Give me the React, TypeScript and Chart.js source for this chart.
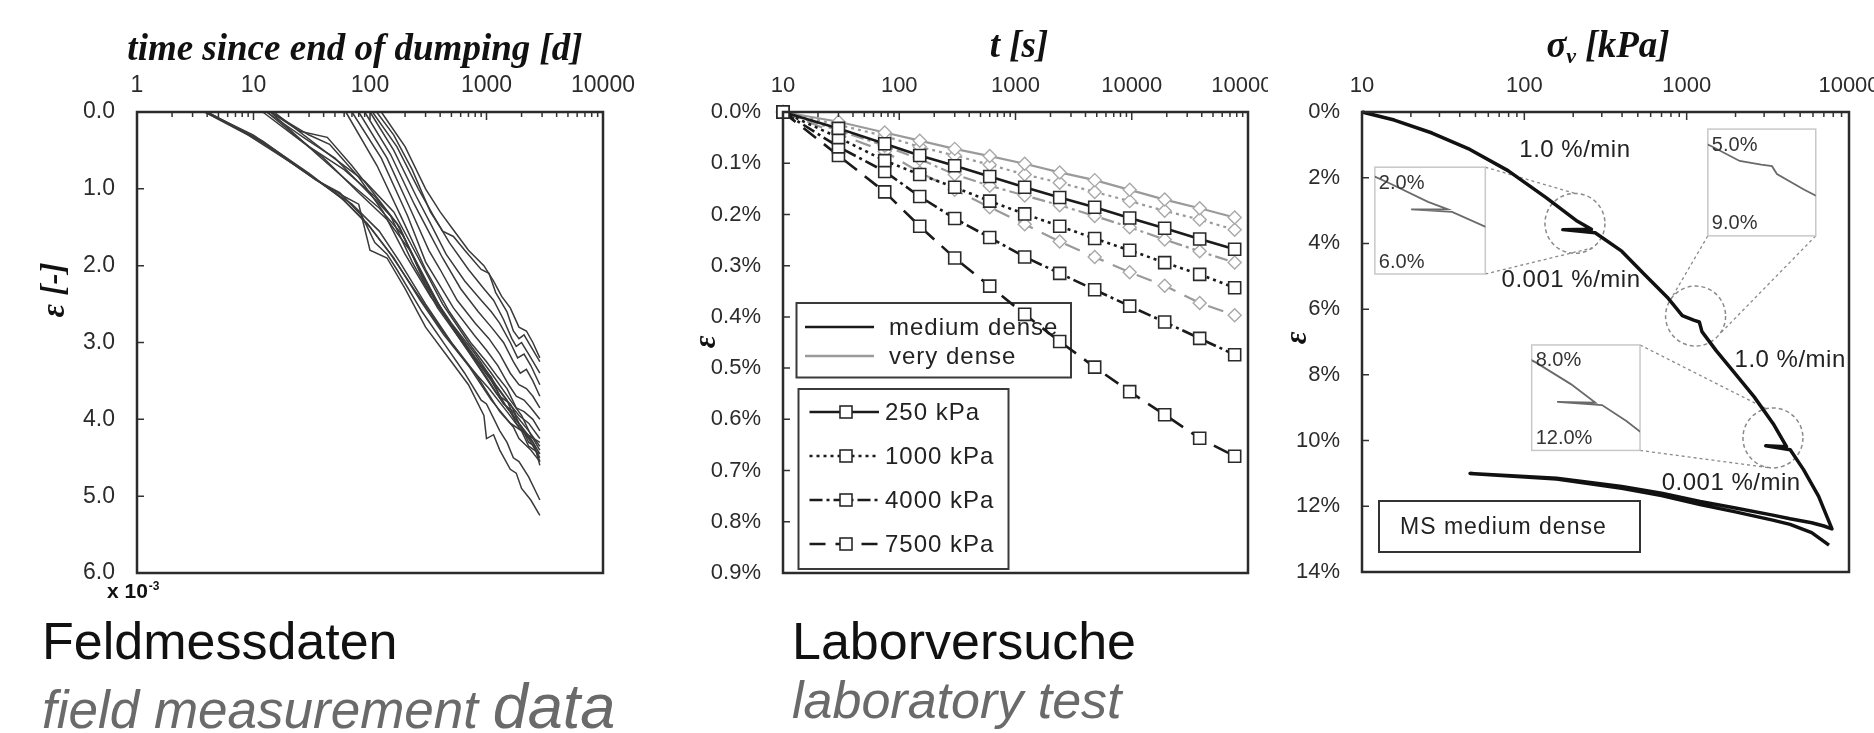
import React, { useEffect, useRef } from 'react';
import { Chart, registerables } from 'chart.js';
Chart.register(...registerables);

const SANS = "'Liberation Sans', Arial, Helvetica, sans-serif";
const SERIF = "'Liberation Serif', 'Times New Roman', serif";
const TICK_COLOR = '#2b2b2b';

// ---------------- Panel 1: field measurement data (time [d], strain x10^-3) ----------------
const p1XTicks = [1, 10, 100, 1000, 10000];
const p1YTicks = [0, 1, 2, 3, 4, 5, 6];

const fieldA1 = [[3.9, 0], [10, 0.3], [30, 0.8], [60, 1.15], [100, 1.5], [150, 1.85], [250, 2.35], [420, 2.85], [700, 3.3], [1100, 3.75], [1600, 4.05], [2000, 4.15], [2300, 4.35], [2870, 4.45]];
const fieldA2 = [[3.9, 0], [10, 0.32], [32, 0.85], [70, 1.2], [120, 1.55], [180, 1.95], [300, 2.5], [500, 3.0], [800, 3.4], [1300, 3.9], [1700, 4.1], [1900, 4.25], [2400, 4.4], [2870, 4.55]];
const fieldA3 = [[4, 0], [12, 0.4], [34, 0.88], [55, 1.05], [85, 1.35], [110, 1.7], [140, 1.85], [170, 2.05], [280, 2.6], [450, 3.05], [650, 3.4], [900, 3.75], [1000, 3.8], [1300, 4.15], [1500, 4.3], [1700, 4.5], [1900, 4.55], [2300, 4.75], [2870, 5.05]];
const fieldA4 = [[4, 0], [12, 0.38], [36, 0.9], [60, 1.1], [80, 1.2], [100, 1.8], [140, 1.9], [200, 2.3], [300, 2.8], [500, 3.25], [700, 3.55], [950, 3.95], [1000, 4.25], [1150, 4.2], [1300, 4.4], [1600, 4.65], [1800, 4.7], [2000, 4.9], [2400, 5.05], [2870, 5.25]];
const fieldA5 = [[3.8, 0], [9, 0.3], [28, 0.78], [55, 1.1], [95, 1.45], [160, 1.9], [270, 2.45], [430, 2.9], [700, 3.3], [1050, 3.6], [1500, 3.9], [2000, 4.15], [2870, 4.3]];
const fieldB1 = [[14, 0], [30, 0.3], [45, 0.42], [80, 0.85], [130, 1.3], [200, 1.85], [330, 2.4], [550, 2.85], [900, 3.3], [1100, 3.45], [1300, 3.7], [1600, 3.8], [1800, 3.95], [2300, 4.15], [2870, 4.35]];
const fieldB2 = [[13, 0], [28, 0.35], [50, 0.6], [90, 1.0], [150, 1.35], [230, 1.95], [380, 2.55], [620, 3.0], [1000, 3.45], [1400, 3.8], [1700, 3.9], [1900, 4.05], [2400, 4.25], [2870, 4.45]];
const fieldB3 = [[14, 0], [25, 0.25], [43, 0.33], [70, 0.7], [120, 1.15], [180, 1.5], [300, 2.25], [500, 2.75], [800, 3.15], [1200, 3.55], [1500, 3.75], [1700, 3.95], [2200, 4.2], [2500, 4.3], [2870, 4.55]];
const fieldB4 = [[13, 0], [30, 0.45], [60, 0.75], [110, 1.1], [170, 1.45], [260, 2.0], [420, 2.6], [700, 3.1], [1100, 3.5], [1500, 3.85], [2000, 4.1], [2300, 4.3], [2600, 4.35], [2870, 4.6]];
const fieldB5 = [[14, 0], [35, 0.55], [70, 0.95], [120, 1.25], [190, 1.6], [300, 2.2], [480, 2.75], [800, 3.25], [1200, 3.65], [1600, 3.9], [1800, 4.05], [2300, 4.25], [2870, 4.5]];
const fieldB6 = [[12, 0], [22, 0.3], [40, 0.6], [80, 1.05], [140, 1.4], [220, 1.8], [360, 2.45], [600, 2.95], [950, 3.35], [1400, 3.7], [1900, 3.95], [2300, 4.05], [2870, 4.25]];
const fieldB7 = [[15, 0], [40, 0.5], [90, 0.9], [160, 1.3], [260, 1.9], [420, 2.5], [700, 3.0], [1100, 3.4], [1600, 3.75], [2000, 3.95], [2400, 4.2], [2870, 4.4]];
const fieldC1 = [[114, 0], [160, 0.3], [230, 0.75], [330, 1.3], [420, 1.55], [520, 1.62], [650, 1.8], [900, 2.05], [1050, 2.1], [1200, 2.35], [1500, 2.6], [1700, 2.85], [1900, 2.95], [2100, 2.9], [2400, 3.05], [2870, 3.25]];
const fieldC2 = [[105, 0], [170, 0.45], [260, 1.0], [350, 1.35], [480, 1.7], [700, 2.05], [950, 2.3], [1150, 2.45], [1400, 2.7], [1650, 2.95], [1800, 3.05], [2000, 3.0], [2300, 3.15], [2870, 3.4]];
const fieldC3 = [[100, 0], [160, 0.5], [250, 1.1], [330, 1.45], [450, 1.85], [650, 2.2], [900, 2.45], [1100, 2.6], [1300, 2.75], [1600, 3.0], [1850, 3.2], [2100, 3.15], [2400, 3.3], [2870, 3.55]];
const fieldC4 = [[90, 0], [150, 0.55], [240, 1.2], [330, 1.6], [420, 1.9], [600, 2.3], [850, 2.6], [1100, 2.8], [1400, 3.0], [1700, 3.25], [1950, 3.4], [2200, 3.35], [2500, 3.5], [2870, 3.7]];
const fieldC5 = [[80, 0], [140, 0.6], [220, 1.25], [320, 1.8], [400, 2.05], [560, 2.45], [800, 2.75], [1050, 2.95], [1300, 3.15], [1600, 3.4], [1900, 3.55], [2200, 3.6], [2500, 3.7], [2870, 3.85]];
const fieldC6 = [[70, 0], [125, 0.6], [210, 1.35], [300, 1.95], [520, 2.55], [780, 2.9], [1000, 3.1], [1250, 3.3], [1550, 3.55], [1800, 3.7], [2100, 3.75], [2400, 3.85], [2870, 4.0]];
const fieldC7 = [[62, 0], [115, 0.7], [190, 1.4], [300, 2.05], [480, 2.6], [730, 3.0], [1000, 3.25], [1250, 3.45], [1500, 3.6], [1800, 3.85], [2100, 3.9], [2500, 4.0], [2870, 4.15]];
const fieldC8 = [[125, 0], [200, 0.45], [300, 1.0], [400, 1.3], [500, 1.5], [700, 1.8], [950, 2.0], [1150, 2.2], [1350, 2.4], [1600, 2.55], [1900, 2.8], [2200, 2.85], [2500, 3.0], [2870, 3.2]];

const fieldSeries = [fieldA1, fieldA2, fieldA3, fieldA4, fieldA5, fieldB1, fieldB2, fieldB3, fieldB4, fieldB5, fieldB6, fieldB7, fieldC1, fieldC2, fieldC3, fieldC4, fieldC5, fieldC6, fieldC7, fieldC8];

// ---------------- Panel 2: laboratory creep tests (t [s], strain [%]) ----------------
const p2XTicks = [10, 100, 1000, 10000, 100000];
const p2YTicks = [0, 0.1, 0.2, 0.3, 0.4, 0.5, 0.6, 0.7, 0.8, 0.9];
const labTimes = [10, 30, 75, 150, 300, 600, 1200, 2400, 4800, 9600, 19200, 38400, 76800];
const md250 = [0, 0.032, 0.062, 0.085, 0.105, 0.126, 0.147, 0.167, 0.186, 0.207, 0.227, 0.248, 0.268];
const md1000 = [0, 0.05, 0.095, 0.122, 0.147, 0.174, 0.199, 0.223, 0.247, 0.27, 0.294, 0.317, 0.343];
const md4000 = [0, 0.068, 0.116, 0.165, 0.208, 0.245, 0.283, 0.315, 0.347, 0.379, 0.41, 0.442, 0.474];
const md7500 = [0, 0.085, 0.156, 0.223, 0.285, 0.34, 0.395, 0.448, 0.498, 0.546, 0.591, 0.637, 0.672];
const vd250 = [0, 0.019, 0.04, 0.056, 0.072, 0.086, 0.101, 0.118, 0.133, 0.152, 0.171, 0.188, 0.206];
const vd1000 = [0, 0.025, 0.047, 0.068, 0.085, 0.103, 0.122, 0.138, 0.156, 0.174, 0.193, 0.21, 0.23];
const vd4000 = [0, 0.036, 0.066, 0.092, 0.122, 0.144, 0.163, 0.182, 0.203, 0.225, 0.249, 0.272, 0.294];
const vd7500 = [0, 0.043, 0.077, 0.118, 0.152, 0.186, 0.219, 0.253, 0.283, 0.313, 0.339, 0.373, 0.397];
const pressureLabels = ['250 kPa', '1000 kPa', '4000 kPa', '7500 kPa'];
const densityLabels = ['medium dense', 'very dense'];

// ---------------- Panel 3: oedometer test, MS medium dense (sigma_v [kPa], strain [%]) ----------------
const p3XTicks = [10, 100, 1000, 10000];
const p3YTicks = [0, 2, 4, 6, 8, 10, 12, 14];
const msStress = [10, 15.8, 27, 46.2, 79.3, 135.5, 208.5, 259, 172.6, 273, 398, 548, 759, 940, 1104, 1197, 1242, 1524, 1995, 2606, 3412, 4121, 3069, 4345, 5248, 6501, 7852,
  7000, 5888, 4335, 3388, 1995, 1210, 700, 398, 158, 46.3,
  158, 398, 700, 1210, 1995, 3388, 4335, 5888, 7530];
const msStrain = [0, 0.245, 0.64, 1.14, 1.785, 2.6, 3.3, 3.57, 3.58, 3.675, 4.235, 4.935, 5.635, 6.195, 6.335, 6.39, 6.685, 7.27, 7.97, 8.67, 9.485, 10.185, 10.16, 10.28, 10.885, 11.7, 12.69,
  12.6, 12.5, 12.38, 12.27, 12.05, 11.85, 11.6, 11.4, 11.15, 11.0,
  11.17, 11.45, 11.67, 11.95, 12.17, 12.42, 12.55, 12.8, 13.18];
const rateLabels = ['1.0 %/min', '0.001 %/min'];

// ---------------- helpers ----------------
function minorLogTicks(min: number, max: number) {
  const out: number[] = [];
  for (let e = Math.floor(Math.log10(min)); e <= Math.ceil(Math.log10(max)); e++) {
    for (let k = 1; k < 10; k++) {
      const v = k * Math.pow(10, e);
      if (v >= min * 0.999 && v <= max * 1.001) out.push(v);
    }
  }
  return out;
}

function xLogAxis(min: number, max: number, ticks: number[], height: number, size: number) {
  return {
    type: 'logarithmic', position: 'top', min, max,
    afterBuildTicks: (s: any) => { s.ticks = ticks.map((v) => ({ value: v })); },
    afterFit: (s: any) => { s.height = height; s.paddingLeft = 0; s.paddingRight = 0; s.paddingTop = 0; s.paddingBottom = 0; },
    grid: { display: false, drawTicks: false, tickLength: 0 },
    border: { display: false },
    ticks: { autoSkip: false, maxRotation: 0, minRotation: 0, padding: 13, color: TICK_COLOR, font: { family: SANS, size }, callback: (v: any) => String(v) },
  };
}

function yLinAxis(min: number, max: number, ticks: number[], width: number, size: number, fmt: (v: number) => string) {
  return {
    type: 'linear', position: 'left', reverse: true, min, max,
    afterBuildTicks: (s: any) => { s.ticks = ticks.map((v) => ({ value: v })); },
    afterFit: (s: any) => { s.width = width; s.paddingLeft = 0; s.paddingRight = 0; s.paddingTop = 0; s.paddingBottom = 0; },
    grid: { display: false, drawTicks: false, tickLength: 0 },
    border: { display: false },
    ticks: { autoSkip: false, padding: 22, color: TICK_COLOR, font: { family: SANS, size }, callback: (v: any) => fmt(Number(v)) },
  };
}

function baseOptions(x: any, y: any, padding: any) {
  return {
    responsive: false, maintainAspectRatio: false, animation: false, devicePixelRatio: 1, events: [],
    layout: { padding },
    plugins: { legend: { display: false }, tooltip: { enabled: false }, title: { display: false } },
    scales: { x, y },
  };
}

function drawFrame(chart: any, xVals: number[], yVals: number[]) {
  const { ctx, chartArea: a } = chart;
  const xs = chart.scales.x, ys = chart.scales.y;
  ctx.save();
  ctx.strokeStyle = '#333';
  ctx.lineWidth = 1.5;
  ctx.beginPath();
  for (const v of xVals) {
    const p = xs.getPixelForValue(v);
    const lg = Math.log10(v);
    const major = Math.abs(lg - Math.round(lg)) < 1e-6;
    ctx.moveTo(p, a.top);
    ctx.lineTo(p, a.top + (major ? 8 : 5));
  }
  for (const v of yVals) {
    const p = ys.getPixelForValue(v);
    ctx.moveTo(a.left, p);
    ctx.lineTo(a.left + 7, p);
  }
  ctx.stroke();
  ctx.lineWidth = 2.5;
  ctx.strokeStyle = '#2b2b2b';
  ctx.strokeRect(a.left, a.top, a.right - a.left, a.bottom - a.top);
  ctx.restore();
}

function drawRotated(ctx: any, text: string, x: number, y: number, font: string) {
  ctx.save();
  ctx.translate(x, y);
  ctx.rotate(-Math.PI / 2);
  ctx.font = font;
  ctx.fillStyle = '#111';
  ctx.textAlign = 'center';
  ctx.textBaseline = 'middle';
  ctx.fillText(text, 0, 0);
  ctx.restore();
}

// ---------------- Panel 1 config ----------------
function config1(): any {
  const deco = {
    id: 'p1deco',
    afterDraw(chart: any) {
      drawFrame(chart, minorLogTicks(1, 10000), p1YTicks);
      const ctx = chart.ctx;
      ctx.save();
      ctx.fillStyle = '#111';
      ctx.font = `italic bold 37px ${SERIF}`;
      ctx.textAlign = 'center';
      ctx.textBaseline = 'alphabetic';
      ctx.fillText('time since end of dumping [d]', 355, 60);
      ctx.restore();
      drawRotated(ctx, 'ε [-]', 55, 290, `italic bold 33px ${SERIF}`);
      ctx.save();
      ctx.fillStyle = '#111';
      ctx.textAlign = 'left';
      ctx.textBaseline = 'alphabetic';
      ctx.font = `bold 21px ${SANS}`;
      ctx.fillText('x 10', 107, 598);
      const w = ctx.measureText('x 10').width;
      ctx.font = `bold 12px ${SANS}`;
      ctx.fillText('-3', 107 + w + 1, 590);
      ctx.restore();
    },
  };
  return {
    type: 'line',
    data: {
      datasets: fieldSeries.map((s) => ({
        data: s.map(([t, e]) => ({ x: t, y: e })),
        borderColor: '#3a3a3a', borderWidth: 1.5, pointRadius: 0, fill: false, tension: 0, clip: false,
      })),
    },
    options: baseOptions(xLogAxis(1, 10000, p1XTicks, 112, 23), yLinAxis(0, 6, p1YTicks, 137, 23, (v) => v.toFixed(1)), { left: 0, top: 0, right: 37, bottom: 37 }),
    plugins: [deco],
  };
}

// ---------------- Panel 2 config ----------------
const labStyles = [
  { vals: md250, dash: [] as number[], md: true },
  { vals: md1000, dash: [3, 4], md: true },
  { vals: md4000, dash: [13, 4, 3, 4], md: true },
  { vals: md7500, dash: [16, 10], md: true },
  { vals: vd250, dash: [] as number[], md: false },
  { vals: vd1000, dash: [3, 4], md: false },
  { vals: vd4000, dash: [13, 4, 3, 4], md: false },
  { vals: vd7500, dash: [16, 10], md: false },
];

function config2(): any {
  const deco = {
    id: 'p2deco',
    beforeDatasetsDraw(chart: any) {
      const { ctx, chartArea: a } = chart;
      ctx.save();
      ctx.strokeStyle = '#3a3a3a';
      ctx.lineWidth = 2;
      ctx.strokeRect(a.left + 13.5, a.top + 191, 274.5, 74.5);
      ctx.strokeRect(a.left + 15.5, a.top + 277, 210, 180);
      ctx.font = `24px ${SANS}`;
      ctx.letterSpacing = '1px';
      ctx.textAlign = 'left';
      ctx.textBaseline = 'middle';
      ctx.fillStyle = '#222';
      const dy = [215, 244];
      densityLabels.forEach((lab, i) => {
        ctx.beginPath();
        ctx.setLineDash([]);
        ctx.strokeStyle = i === 0 ? '#1a1a1a' : '#9a9a9a';
        ctx.lineWidth = i === 0 ? 2.6 : 2.4;
        ctx.moveTo(a.left + 22, a.top + dy[i]);
        ctx.lineTo(a.left + 91, a.top + dy[i]);
        ctx.stroke();
        ctx.fillText(lab, a.left + 106, a.top + dy[i] + 1);
      });
      const py = [300, 344, 388, 432];
      pressureLabels.forEach((lab, i) => {
        const y = a.top + py[i];
        ctx.beginPath();
        ctx.setLineDash(labStyles[i].dash);
        ctx.strokeStyle = '#1a1a1a';
        ctx.lineWidth = 2.6;
        ctx.moveTo(a.left + 26.5, y);
        ctx.lineTo(a.left + 96, y);
        ctx.stroke();
        ctx.setLineDash([]);
        ctx.fillStyle = '#fff';
        ctx.strokeStyle = '#2a2a2a';
        ctx.lineWidth = 1.6;
        ctx.fillRect(a.left + 57, y - 6, 12, 12);
        ctx.strokeRect(a.left + 57, y - 6, 12, 12);
        ctx.fillStyle = '#222';
        ctx.fillText(lab, a.left + 102, y + 1);
      });
      ctx.restore();
    },
    afterDraw(chart: any) {
      drawFrame(chart, minorLogTicks(10, 100000), p2YTicks);
      const ctx = chart.ctx;
      ctx.save();
      ctx.fillStyle = '#111';
      ctx.font = `italic bold 37px ${SERIF}`;
      ctx.textAlign = 'center';
      ctx.textBaseline = 'alphabetic';
      ctx.fillText('t [s]', 379, 57);
      ctx.restore();
      drawRotated(ctx, 'ε', 67, 342, `italic bold 31px ${SERIF}`);
    },
  };
  return {
    type: 'line',
    data: {
      datasets: labStyles.map((s) => ({
        data: labTimes.map((t, i) => ({ x: t, y: s.vals[i] })),
        borderColor: s.md ? '#1a1a1a' : '#9a9a9a',
        borderWidth: s.md ? 2.6 : 2.2,
        borderDash: s.dash,
        borderCapStyle: 'butt',
        pointStyle: s.md ? 'rect' : 'rectRot',
        pointRadius: s.md ? 8.5 : 6.5,
        pointBorderWidth: s.md ? 1.6 : 1.4,
        pointBorderColor: s.md ? '#2a2a2a' : '#a8a8a8',
        pointBackgroundColor: '#ffffff',
        fill: false, tension: 0, clip: false,
      })),
    },
    options: baseOptions(xLogAxis(10, 100000, p2XTicks, 112, 22), yLinAxis(0, 0.9, p2YTicks, 143, 22, (v) => v.toFixed(1) + '%'), { left: 0, top: 0, right: 20, bottom: 37 }),
    plugins: [deco],
  };
}

// ---------------- Panel 3 config ----------------
const insets = [
  { box: [12.0, 57.5, 1.68, 4.93], win: [115, 396, 2.0, 6.0], top: '2.0%', bottom: '6.0%', circle: [205, 3.39], c1: ['tr', -90], c2: ['br', 55] },
  { box: [1350, 6240, 0.52, 3.77], win: [741, 1660, 5.0, 9.0], top: '5.0%', bottom: '9.0%', circle: [1135, 6.21], c1: ['bl', -145], c2: ['br', 38] },
  { box: [111, 516, 7.09, 10.3], win: [2518, 5834, 8.0, 12.0], top: '8.0%', bottom: '12.0%', circle: [3400, 9.92], c1: ['tr', -103], c2: ['br', 98] },
];
const rateNotes = [
  { text: rateLabels[0], s: 205, e: 1.16 },
  { text: rateLabels[1], s: 194, e: 5.11 },
  { text: rateLabels[0], s: 4340, e: 7.55 },
  { text: rateLabels[1], s: 1880, e: 11.29 },
];

function config3(): any {
  const deco = {
    id: 'p3deco',
    beforeDatasetsDraw(chart: any) {
      const { ctx, chartArea: a } = chart;
      const xs = chart.scales.x, ys = chart.scales.y;
      ctx.save();
      ctx.font = `24px ${SANS}`;
      ctx.letterSpacing = '0.5px';
      ctx.fillStyle = '#222';
      ctx.textAlign = 'center';
      ctx.textBaseline = 'middle';
      rateNotes.forEach((n) => ctx.fillText(n.text, xs.getPixelForValue(n.s), ys.getPixelForValue(n.e)));
      ctx.letterSpacing = '0px';
      insets.forEach((ins) => {
        const X0 = xs.getPixelForValue(ins.box[0]), X1 = xs.getPixelForValue(ins.box[1]);
        const Y0 = ys.getPixelForValue(ins.box[2]), Y1 = ys.getPixelForValue(ins.box[3]);
        const cx = xs.getPixelForValue(ins.circle[0]), cy = ys.getPixelForValue(ins.circle[1]);
        const R = 30;
        ctx.setLineDash([3, 3]);
        ctx.strokeStyle = '#8a8a8a';
        ctx.lineWidth = 1.3;
        [ins.c1, ins.c2].forEach((c: any) => {
          const corner = c[0] as string;
          const px = corner.includes('r') ? X1 : X0;
          const py = corner.includes('t') ? Y0 : Y1;
          const ang = (c[1] * Math.PI) / 180;
          ctx.beginPath();
          ctx.moveTo(px, py);
          ctx.lineTo(cx + R * Math.cos(ang), cy + R * Math.sin(ang));
          ctx.stroke();
        });
        ctx.setLineDash([4, 3]);
        ctx.lineWidth = 1.5;
        ctx.beginPath();
        ctx.arc(cx, cy, R, 0, Math.PI * 2);
        ctx.stroke();
        ctx.setLineDash([]);
        ctx.fillStyle = '#fff';
        ctx.fillRect(X0, Y0, X1 - X0, Y1 - Y0);
        ctx.strokeStyle = '#c8c8c8';
        ctx.lineWidth = 1.5;
        ctx.strokeRect(X0, Y0, X1 - X0, Y1 - Y0);
        ctx.save();
        ctx.beginPath();
        ctx.rect(X0, Y0, X1 - X0, Y1 - Y0);
        ctx.clip();
        const l0 = Math.log10(ins.win[0]), l1 = Math.log10(ins.win[1]);
        ctx.beginPath();
        msStress.forEach((s, i) => {
          const u = (Math.log10(s) - l0) / (l1 - l0);
          const v = (msStrain[i] - ins.win[2]) / (ins.win[3] - ins.win[2]);
          const px = X0 + u * (X1 - X0), py = Y0 + v * (Y1 - Y0);
          if (i === 0) ctx.moveTo(px, py); else ctx.lineTo(px, py);
        });
        ctx.strokeStyle = '#6a6a6a';
        ctx.lineWidth = 1.8;
        ctx.stroke();
        ctx.restore();
        ctx.font = `20px ${SANS}`;
        ctx.fillStyle = '#333';
        ctx.textAlign = 'left';
        ctx.textBaseline = 'middle';
        ctx.fillText(ins.top, X0 + 4, Y0 + 16);
        ctx.fillText(ins.bottom, X0 + 4, Y1 - 12);
      });
      ctx.strokeStyle = '#333';
      ctx.lineWidth = 2;
      ctx.strokeRect(a.left + 17, a.bottom - 71, 261, 51);
      ctx.font = `23px ${SANS}`;
      ctx.letterSpacing = '1px';
      ctx.fillStyle = '#222';
      ctx.textAlign = 'left';
      ctx.textBaseline = 'middle';
      ctx.fillText('MS medium dense', a.left + 38, a.bottom - 44);
      ctx.restore();
    },
    afterDraw(chart: any) {
      drawFrame(chart, minorLogTicks(10, 10000), p3YTicks);
      const ctx = chart.ctx;
      ctx.save();
      ctx.fillStyle = '#111';
      ctx.textBaseline = 'alphabetic';
      ctx.textAlign = 'left';
      ctx.font = `italic bold 37px ${SERIF}`;
      const w1 = ctx.measureText('σ').width;
      ctx.font = `italic bold 22px ${SERIF}`;
      const w2 = ctx.measureText('v').width;
      ctx.font = `italic bold 37px ${SERIF}`;
      const w3 = ctx.measureText(' [kPa]').width;
      const x0 = 338 - (w1 + w2 + w3) / 2;
      ctx.fillText('σ', x0, 57);
      ctx.font = `italic bold 22px ${SERIF}`;
      ctx.fillText('v', x0 + w1, 63);
      ctx.font = `italic bold 37px ${SERIF}`;
      ctx.fillText(' [kPa]', x0 + w1 + w2, 57);
      ctx.restore();
      drawRotated(ctx, 'ε', 27.5, 338, `italic bold 31px ${SERIF}`);
    },
  };
  return {
    type: 'line',
    data: {
      datasets: [{
        data: msStress.map((s, i) => ({ x: s, y: msStrain[i] })),
        borderColor: '#111', borderWidth: 3.5, pointRadius: 0, fill: false, tension: 0, clip: false, borderJoinStyle: 'round',
      }],
    },
    options: baseOptions(xLogAxis(10, 10000, p3XTicks, 112, 22), yLinAxis(0, 14, p3YTicks, 92, 22, (v) => v.toFixed(0) + '%'), { left: 0, top: 0, right: 25, bottom: 38 }),
    plugins: [deco],
  };
}

const captionBase: React.CSSProperties = { position: 'absolute', whiteSpace: 'nowrap', lineHeight: 1, fontFamily: SANS };

export default function App() {
  const r1 = useRef<HTMLCanvasElement>(null);
  const r2 = useRef<HTMLCanvasElement>(null);
  const r3 = useRef<HTMLCanvasElement>(null);
  useEffect(() => {
    const charts = [
      new Chart(r1.current as HTMLCanvasElement, config1()),
      new Chart(r2.current as HTMLCanvasElement, config2()),
      new Chart(r3.current as HTMLCanvasElement, config3()),
    ];
    return () => charts.forEach((c) => c.destroy());
  }, []);
  const cv = (left: number, width: number): React.CSSProperties => ({ position: 'absolute', left, top: 0, width, height: 610 });
  return (
    <div style={{ position: 'fixed', left: 0, top: 0, width: 1874, height: 733, background: '#fff', overflow: 'hidden' }}>
      <canvas ref={r1} width={640} height={610} style={cv(0, 640)} />
      <canvas ref={r2} width={628} height={610} style={cv(640, 628)} />
      <canvas ref={r3} width={604} height={610} style={cv(1270, 604)} />
      <div style={{ ...captionBase, left: 42, top: 615, fontSize: 52, color: '#111' }}>Feldmessdaten</div>
      <div style={{ ...captionBase, left: 42, top: 674.5, display: 'flex', alignItems: 'baseline', color: '#6a6a6a', fontStyle: 'italic' }}>
        <span style={{ fontSize: 53, lineHeight: 1 }}>field measurement&nbsp;</span>
        <span style={{ fontSize: 63, lineHeight: 1 }}>data</span>
      </div>
      <div style={{ ...captionBase, left: 792, top: 615, fontSize: 52, color: '#111' }}>Laborversuche</div>
      <div style={{ ...captionBase, left: 792, top: 674, fontSize: 52, color: '#6a6a6a', fontStyle: 'italic' }}>laboratory test</div>
    </div>
  );
}
